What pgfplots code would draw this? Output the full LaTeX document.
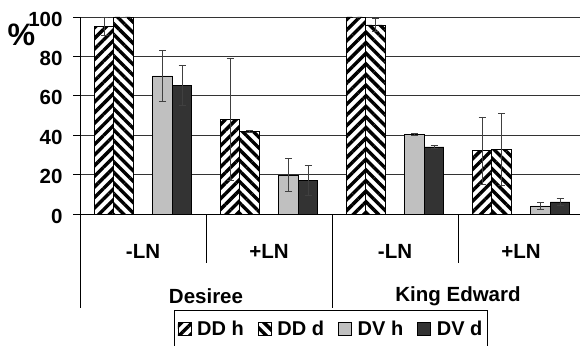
\documentclass[border=0pt]{standalone}
\usepackage{pgfplots}
\pgfplotsset{compat=1.18}
\usepackage{pgfplotstable}
\usepackage{fontspec}
\setmainfont{Liberation Sans}
\usetikzlibrary{patterns.meta}
\definecolor{lgray}{RGB}{192,192,192}
\definecolor{dgray}{RGB}{51,51,51}
\pgfplotstableread{
x ddh ddhe ddd ddde dvh dvhe dvd dvde
0 95.3 4.7 100 0 70.1 13.1 65.3 10
1 48.2 31 42.1 0.5 19.7 8.4 17.1 7.4
2 100 0 96 3.5 40.5 0.5 34.1 1
3 32.2 17.1 32.9 18.3 4.1 1.7 6.1 1.6
}\data
\begin{document}
\begin{tikzpicture}
\useasboundingbox (0,0) rectangle (580pt,345pt);
\begin{axis}[
  at={(80pt,131pt)}, anchor=south west,
  scale only axis, width=504pt, height=197pt,
  xmin=-0.5, xmax=3.5, ymin=0, ymax=100,
  axis lines*=left,
  axis line style={black, line width=0.7pt},
  ytick={0,20,...,100},
  ymajorgrids, grid style={black!80, line width=0.7pt},
  tick align=outside, major tick length=7pt,
  ytick style={black, line width=0.7pt},
  xtick={0,1,2,3},
  xticklabels={-LN,+LN,-LN,+LN},
  xtick style={draw=none},
  /pgf/number format/assume math mode=true,
  ticklabel style={font=\bfseries\fontsize{20.5}{20.5}\selectfont},
  yticklabel style={xshift=-7pt, yshift=-2pt},
  xticklabel style={anchor=center, yshift=-30pt},
  clip mode=individual,
  ybar, bar width=19.5pt,
  error bars/y dir=both, error bars/y explicit,
  error bars/error bar style={black!75, line width=0.7pt},
  error bars/error mark options={black!75, line width=0.7pt, mark size=3.5pt, rotate=90},
  legend columns=4,
  legend style={at={(0.498,-0.487)}, anchor=north, draw=black, line width=0.7pt,
    font=\bfseries\fontsize{20}{20}\selectfont, inner xsep=3pt, inner ysep=9pt,
    /tikz/every odd column/.append style={column sep=4pt},
    /tikz/every even column/.append style={column sep=12pt}},
  legend image code/.code={\draw[#1, line width=0.6pt] (0pt,-6.5pt) rectangle (13pt,6.5pt);},
]
\addplot[draw=black, line width=0.6pt, fill=white,
  postaction={pattern={Lines[angle=45,distance=7.5pt,line width=3.4pt]}, pattern color=black},
  bar shift=-39pt]
  table[x=x, y=ddh, y error=ddhe] {\data};
\addplot[draw=black, line width=0.6pt, fill=white,
  postaction={pattern={Lines[angle=-45,distance=7.5pt,line width=3.4pt]}, pattern color=black},
  bar shift=-19.5pt]
  table[x=x, y=ddd, y error=ddde] {\data};
\addplot[draw=black, line width=0.6pt, fill=lgray, bar shift=19.5pt]
  table[x=x, y=dvh, y error=dvhe] {\data};
\addplot[draw=black, line width=0.6pt, fill=dgray, bar shift=39pt]
  table[x=x, y=dvd, y error=dvde] {\data};
\legend{DD h, DD d, DV h, DV d}
\draw[black, line width=0.7pt] (axis cs:0.5,0) -- ([yshift=-49pt]axis cs:0.5,0);
\draw[black, line width=0.7pt] (axis cs:2.5,0) -- ([yshift=-49pt]axis cs:2.5,0);
\draw[black, line width=0.7pt] (axis cs:1.5,0) -- ([yshift=-94pt]axis cs:1.5,0);
\draw[black, line width=0.7pt] (axis cs:-0.5,0) -- ([yshift=-94pt]axis cs:-0.5,0);
\node[font=\bfseries\fontsize{20.5}{20.5}\selectfont] at ([yshift=-82pt]axis cs:0.5,0) {Desiree};
\node[font=\bfseries\fontsize{20.5}{20.5}\selectfont] at ([yshift=-82pt]axis cs:2.5,0) {King Edward};
\end{axis}
\node[font=\bfseries\fontsize{31}{31}\selectfont] at (21.5pt,310pt) {\%};
\end{tikzpicture}
\end{document}
